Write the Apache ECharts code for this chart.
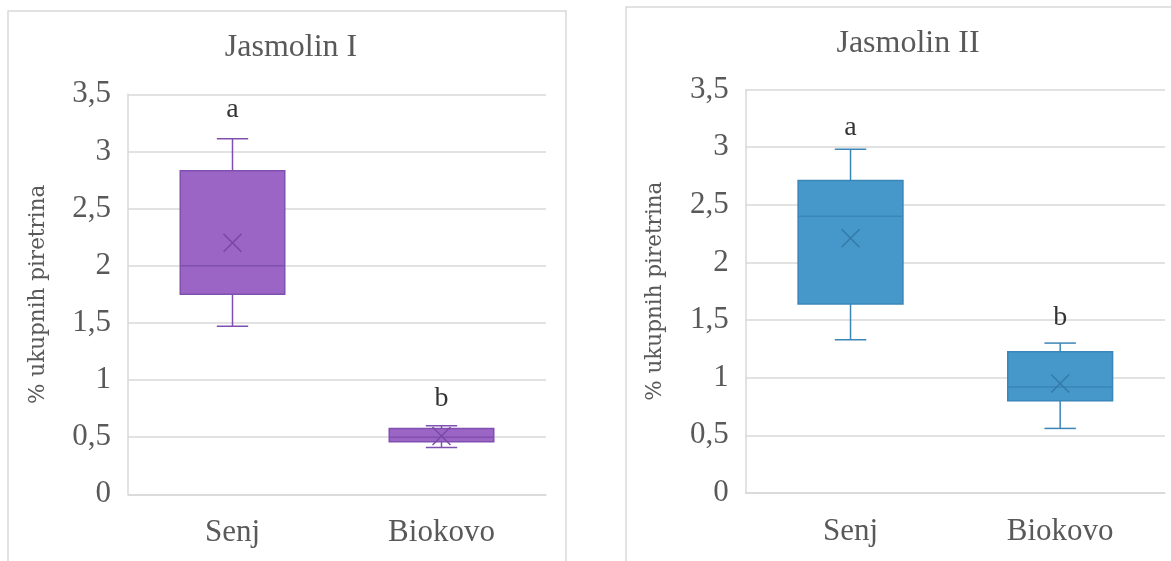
<!DOCTYPE html>
<html>
<head>
<meta charset="utf-8">
<script src="https://cdn.jsdelivr.net/npm/echarts@6/dist/echarts.min.js"></script>
<style>
html,body{margin:0;padding:0;background:#fff;}
#chart{width:1171px;height:561px;}
</style>
</head>
<body>
<div id="chart"></div>
<script>
// ---- data ----
const categories = ['Senj', 'Biokovo'];
const yTicks = ['0', '0,5', '1', '1,5', '2', '2,5', '3', '3,5'];

const j1Min    = [1.47, 0.41];
const j1Q1     = [1.75, 0.46];
const j1Median = [2.00, 0.50];
const j1Q3     = [2.83, 0.575];
const j1Max    = [3.11, 0.60];
const j1Mean   = [2.20, 0.51];
const j1Letters   = ['a', 'b'];
const j1LetterPos = [3.37, 0.84];

const j2Min    = [1.33, 0.56];
const j2Q1     = [1.64, 0.80];
const j2Median = [2.40, 0.92];
const j2Q3     = [2.71, 1.225];
const j2Max    = [2.98, 1.30];
const j2Mean   = [2.21, 0.95];
const j2Letters   = ['a', 'b'];
const j2LetterPos = [3.17, 1.52];

const titles = ['Jasmolin I', 'Jasmolin II'];
const yName = '% ukupnih piretrina';

// ---- build ----
function boxData(mn, q1, md, q3, mx, mean) {
  return categories.map((c, i) => [i, mn[i], q1[i], md[i], q3[i], mx[i], mean[i]]);
}
function letterData(pos, letters) {
  return categories.map((c, i) => ({ value: [i, pos[i]], label: { formatter: letters[i] } }));
}

function makeRender(fill, stroke, xColor) {
  return function (params, api) {
    const idx = api.value(0);
    const pMin = api.coord([idx, api.value(1)]);
    const pQ1 = api.coord([idx, api.value(2)]);
    const pMd = api.coord([idx, api.value(3)]);
    const pQ3 = api.coord([idx, api.value(4)]);
    const pMax = api.coord([idx, api.value(5)]);
    const pMean = api.coord([idx, api.value(6)]);
    const band = api.size([1, 0])[0];
    const bw = band * 0.5;
    const cap = band * 0.15;
    const cx = pQ1[0];
    const ls = { stroke: stroke, lineWidth: 1.5 };
    const xs = 9;
    return {
      type: 'group',
      children: [
        { type: 'line', shape: { x1: cx, y1: pQ3[1], x2: cx, y2: pMax[1] }, style: ls },
        { type: 'line', shape: { x1: cx - cap / 2, y1: pMax[1], x2: cx + cap / 2, y2: pMax[1] }, style: ls },
        { type: 'line', shape: { x1: cx, y1: pQ1[1], x2: cx, y2: pMin[1] }, style: ls },
        { type: 'line', shape: { x1: cx - cap / 2, y1: pMin[1], x2: cx + cap / 2, y2: pMin[1] }, style: ls },
        { type: 'rect', shape: { x: cx - bw / 2, y: pQ3[1], width: bw, height: pQ1[1] - pQ3[1] },
          style: { fill: fill, stroke: stroke, lineWidth: 1.5 } },
        { type: 'line', shape: { x1: cx - bw / 2, y1: pMd[1], x2: cx + bw / 2, y2: pMd[1] }, style: ls },
        { type: 'line', shape: { x1: cx - xs, y1: pMean[1] - xs, x2: cx + xs, y2: pMean[1] + xs }, style: { stroke: xColor, lineWidth: 1.5 } },
        { type: 'line', shape: { x1: cx - xs, y1: pMean[1] + xs, x2: cx + xs, y2: pMean[1] - xs }, style: { stroke: xColor, lineWidth: 1.5 } }
      ]
    };
  };
}

const serif = '"Liberation Serif", "Times New Roman", serif';
const gray = '#595959';
const lineGray = '#D9D9D9';

function xAxis(gi) {
  return {
    type: 'category', gridIndex: gi, data: categories,
    axisLine: { show: true, lineStyle: { color: lineGray, width: 1.5 } },
    axisTick: { show: false },
    axisLabel: { color: gray, fontFamily: serif, fontSize: 31, margin: 23 }
  };
}
function yAxis(gi) {
  return {
    type: 'value', gridIndex: gi, min: 0, max: 3.5, interval: 0.5,
    axisLine: { show: true, lineStyle: { color: lineGray, width: 1.5 } },
    axisTick: { show: false },
    splitLine: { show: true, lineStyle: { color: lineGray, width: 1.5 } },
    axisLabel: { color: gray, fontFamily: serif, fontSize: 31, margin: 17,
      formatter: v => yTicks[Math.round(v / 0.5)] },
    name: yName, nameLocation: 'middle', nameGap: 79, nameRotate: 90,
    nameTextStyle: { color: gray, fontFamily: '"DejaVu Serif", serif', fontSize: 21.5 }
  };
}

const chart = echarts.init(document.getElementById('chart'), null, { renderer: 'canvas' });
chart.setOption({
  animation: false,
  backgroundColor: '#fff',
  graphic: [
    { type: 'rect', shape: { x: 8, y: 11, width: 558, height: 600 }, style: { fill: 'none', stroke: lineGray, lineWidth: 1.5 } },
    { type: 'rect', shape: { x: 626, y: 7, width: 560, height: 600 }, style: { fill: 'none', stroke: lineGray, lineWidth: 1.5 } }
  ],
  title: [
    { text: titles[0], left: 286, top: 27, textAlign: 'center',
      textStyle: { color: gray, fontFamily: serif, fontSize: 32, fontWeight: 'normal' } },
    { text: titles[1], left: 903, top: 23, textAlign: 'center',
      textStyle: { color: gray, fontFamily: serif, fontSize: 32, fontWeight: 'normal' } }
  ],
  grid: [
    { left: 128, top: 94.3, width: 418, height: 400 },
    { left: 745.7, top: 89.4, width: 419.3, height: 403.6 }
  ],
  xAxis: [xAxis(0), xAxis(1)],
  yAxis: [yAxis(0), yAxis(1)],
  series: [
    { type: 'custom', xAxisIndex: 0, yAxisIndex: 0,
      renderItem: makeRender('#9B65C6', '#8050B0', '#7A49A6'),
      encode: { x: 0, y: [1, 2, 3, 4, 5, 6] },
      data: boxData(j1Min, j1Q1, j1Median, j1Q3, j1Max, j1Mean) },
    { type: 'custom', xAxisIndex: 1, yAxisIndex: 1,
      renderItem: makeRender('#4698CB', '#3A86B8', '#3479A8'),
      encode: { x: 0, y: [1, 2, 3, 4, 5, 6] },
      data: boxData(j2Min, j2Q1, j2Median, j2Q3, j2Max, j2Mean) },
    { type: 'scatter', xAxisIndex: 0, yAxisIndex: 0, symbolSize: 1,
      itemStyle: { color: 'rgba(0,0,0,0)' },
      label: { show: true, position: 'inside', color: '#000', fontFamily: serif, fontSize: 28 },
      data: letterData(j1LetterPos, j1Letters) },
    { type: 'scatter', xAxisIndex: 1, yAxisIndex: 1, symbolSize: 1,
      itemStyle: { color: 'rgba(0,0,0,0)' },
      label: { show: true, position: 'inside', color: '#000', fontFamily: serif, fontSize: 28 },
      data: letterData(j2LetterPos, j2Letters) }
  ]
});
</script>
</body>
</html>
